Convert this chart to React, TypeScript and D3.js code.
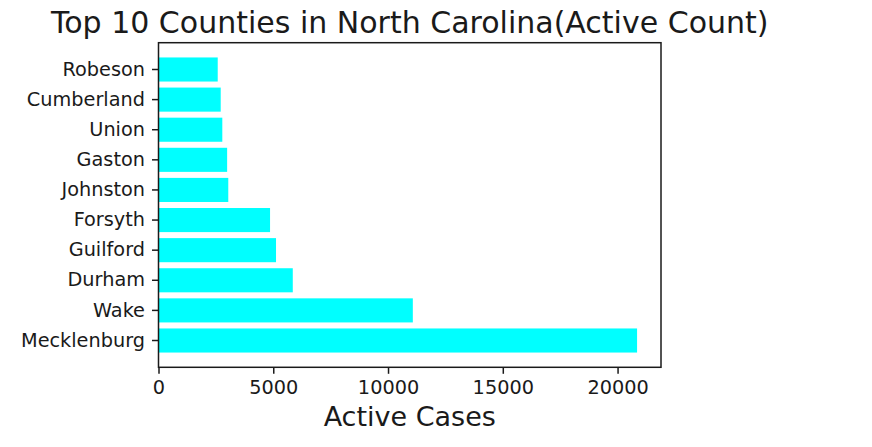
import React, { useEffect, useRef } from 'react';
import * as d3 from 'd3';

// top 10 NC counties by active case count (bottom to top in the plot)
const counties = ['Mecklenburg', 'Wake', 'Durham', 'Guilford', 'Forsyth', 'Johnston', 'Gaston', 'Union', 'Cumberland', 'Robeson'];
const activeCases = [20850, 11080, 5850, 5120, 4860, 3040, 2990, 2780, 2710, 2580];
const xTicks = [0, 5000, 10000, 15000, 20000];

const App = () => {
  const svgRef = useRef<SVGSVGElement>(null);

  useEffect(() => {
    const svg = d3.select(svgRef.current);
    svg.selectAll('*').remove();

    const width = 872;
    const height = 447;
    const margin = { top: 42.7, right: 211, bottom: 79.7, left: 158.5 };
    const innerWidth = width - margin.left - margin.right;
    const innerHeight = height - margin.top - margin.bottom;
    const font = 'DejaVu Sans, sans-serif';
    const ink = '#1a1a1a';

    svg.attr('width', width).attr('height', height);

    const data = counties.map((c, i) => ({ county: c, value: activeCases[i] }));

    // matplotlib-style 5% margin around the longest bar
    const x = d3.scaleLinear()
      .domain([0, d3.max(activeCases)! * 1.05])
      .range([0, innerWidth]);

    const y = d3.scaleBand()
      .domain(counties.slice().reverse())
      .range([0, innerHeight])
      .paddingInner(0.2)
      .paddingOuter(0.49);

    const g = svg.append('g')
      .attr('transform', `translate(${margin.left},${margin.top})`);

    // bars
    g.selectAll('rect.bar')
      .data(data)
      .join('rect')
      .attr('class', 'bar')
      .attr('x', 0)
      .attr('y', d => y(d.county)!)
      .attr('width', d => x(d.value))
      .attr('height', y.bandwidth())
      .attr('fill', '#00ffff');

    // x axis
    const xAxis = g.append('g')
      .attr('transform', `translate(0,${innerHeight})`)
      .call(d3.axisBottom(x).tickValues(xTicks).tickSize(6.5).tickPadding(7).tickFormat(d3.format('d')));
    xAxis.select('.domain').remove();
    xAxis.selectAll('.tick line').attr('stroke', ink).attr('stroke-width', 1.5);
    xAxis.selectAll('.tick text')
      .attr('fill', ink)
      .style('font-family', font)
      .style('font-size', '19.3px');

    // y axis
    const yAxis = g.append('g')
      .call(d3.axisLeft(y).tickSize(6.5).tickPadding(7));
    yAxis.select('.domain').remove();
    yAxis.selectAll('.tick line').attr('stroke', ink).attr('stroke-width', 1.5);
    yAxis.selectAll('.tick text')
      .attr('fill', ink)
      .style('font-family', font)
      .style('font-size', '19.3px');

    // frame
    g.append('rect')
      .attr('x', 0)
      .attr('y', 0)
      .attr('width', innerWidth)
      .attr('height', innerHeight)
      .attr('fill', 'none')
      .attr('stroke', ink)
      .attr('stroke-width', 1.5);

    // title
    svg.append('text')
      .attr('x', margin.left + innerWidth / 2)
      .attr('y', 33)
      .attr('text-anchor', 'middle')
      .attr('fill', ink)
      .style('font-family', font)
      .style('font-size', '30px')
      .text('Top 10 Counties in North Carolina(Active Count)');

    // x label
    svg.append('text')
      .attr('x', margin.left + innerWidth / 2)
      .attr('y', 426)
      .attr('text-anchor', 'middle')
      .attr('fill', ink)
      .style('font-family', font)
      .style('font-size', '27px')
      .text('Active Cases');
  }, []);

  return (
    <>
      <style>{'body{margin:0}'}</style>
      <svg ref={svgRef}></svg>
    </>
  );
};

export default App;
